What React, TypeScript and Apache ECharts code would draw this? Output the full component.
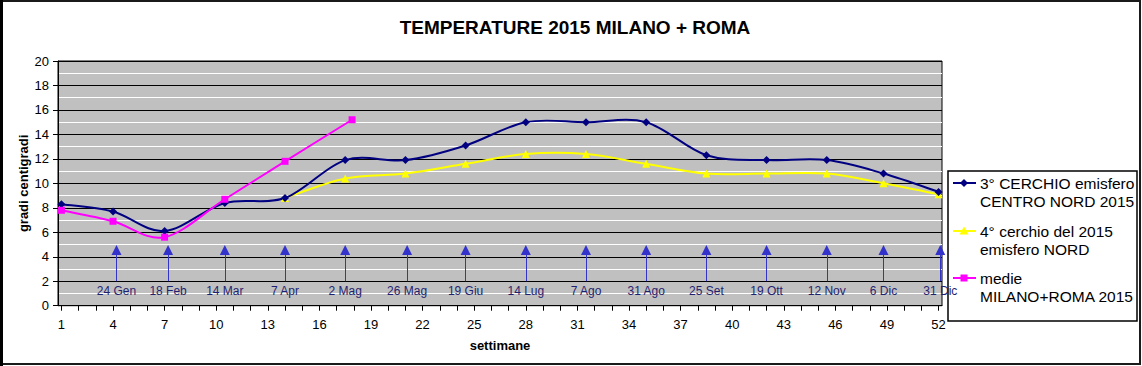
import React, { useEffect, useRef } from "react";
import * as echarts from "echarts";

const FONT = "'Liberation Sans', Arial, Helvetica, sans-serif";

// weeks at which the readings were taken
const weeks = [1, 4, 7, 10.5, 14, 17.5, 21, 24.5, 28, 31.5, 35, 38.5, 42, 45.5, 48.8, 52];
const cerchio3 = [8.3, 7.7, 6.1, 8.4, 8.8, 11.9, 11.9, 13.1, 15.0, 15.0, 15.0, 12.3, 11.9, 11.9, 10.8, 9.3];
const cerchio4 = [null, null, null, null, 8.8, 10.4, 10.8, 11.6, 12.4, 12.4, 11.6, 10.8, 10.8, 10.8, 10.0, 9.1];
const medieWeeks = [1, 4, 7, 10.5, 14, 17.9];
const medie = [7.8, 6.9, 5.6, 8.7, 11.8, 15.2];

const arrowWeeks = [4.2, 7.2, 10.5, 14, 17.5, 21.1, 24.5, 28, 31.5, 35, 38.5, 42, 45.5, 48.8, 52.1];
const arrowLabels = [
  "24 Gen", "18 Feb", "14 Mar", "7 Apr", "2 Mag", "26 Mag", "19 Giu", "14 Lug",
  "7 Ago", "31 Ago", "25 Set", "19 Ott", "12 Nov", "6 Dic", "31 Dic",
];

const xTickLabels = [1, 4, 7, 10, 13, 16, 19, 22, 25, 28, 31, 34, 37, 40, 43, 46, 49, 52];
const xTicks = Array.from({ length: 52 }, (_, i) => i + 1);

const seriesNames = [
  "3° CERCHIO emisfero\nCENTRO NORD 2015",
  "4° cerchio del 2015\nemisfero NORD",
  "medie\nMILANO+ROMA 2015",
];
const seriesColors = ["#000080", "#FFFF00", "#FF00FF"];

const title = "TEMPERATURE 2015 MILANO + ROMA";

function zip(xs: number[], ys: (number | null)[]) {
  const out: number[][] = [];
  xs.forEach((x, i) => {
    if (ys[i] !== null && ys[i] !== undefined) out.push([x, ys[i] as number]);
  });
  return out;
}

// Excel-like smoothed curve (Catmull-Rom as cubic Bezier) drawn through the axis scales
function smoothCurve(points: number[][], color: string, z: number) {
  return {
    type: "custom",
    data: points,
    z,
    silent: true,
    encode: { x: 0, y: 1 },
    renderItem: (params: any, api: any) => {
      const i = params.dataIndex;
      const n = points.length;
      if (i >= n - 1) return null;
      const P = (k: number) => api.coord(points[Math.max(0, Math.min(n - 1, k))]);
      const p0 = P(i - 1), p1 = P(i), p2 = P(i + 1), p3 = P(i + 2);
      const t = 1 / 6;
      return {
        type: "bezierCurve",
        shape: {
          x1: p1[0], y1: p1[1], x2: p2[0], y2: p2[1],
          cpx1: p1[0] + (p2[0] - p0[0]) * t,
          cpy1: p1[1] + (p2[1] - p0[1]) * t,
          cpx2: p2[0] - (p3[0] - p1[0]) * t,
          cpy2: p2[1] - (p3[1] - p1[1]) * t,
        },
        style: { stroke: color, lineWidth: 2, fill: "none" },
      };
    },
  };
}

export default function App() {
  const ref = useRef<HTMLDivElement>(null);
  useEffect(() => {
    if (!ref.current) return;
    const chart = echarts.init(ref.current, null, { renderer: "svg" });
    const arrowColor = "#3333CC";
    const legendX = 948;
    const legendRows = [183, 231, 278];
    const d3 = zip(weeks, cerchio3);
    const d4 = zip(weeks, cerchio4);
    const dm = zip(medieWeeks, medie);
    const markerSeries = (name: string, data: number[][], color: string, symbol: string, size: number, z: number) => ({
      name,
      type: "line",
      data,
      symbol,
      symbolSize: size,
      itemStyle: { color },
      lineStyle: { opacity: 0 },
      z,
    });
    const option: any = {
      animation: false,
      backgroundColor: "#ffffff",
      textStyle: { fontFamily: FONT },
      title: {
        text: title,
        left: 575,
        textAlign: "center",
        top: 18,
        padding: 0,
        textStyle: { fontFamily: FONT, fontSize: 19, fontWeight: "bold", color: "#000" },
      },
      grid: {
        left: 58,
        top: 61,
        width: 884,
        height: 244.7,
        show: true,
        backgroundColor: "#C0C0C0",
        borderColor: "#000",
        borderWidth: 1,
      },
      xAxis: {
        type: "value",
        min: 0.8,
        max: 52.2,
        name: "settimane",
        nameLocation: "middle",
        nameGap: 33,
        nameMoveOverlap: false,
        nameTextStyle: { fontFamily: FONT, fontWeight: "bold", fontSize: 13, color: "#000" },
        axisLine: { show: true, onZero: false, lineStyle: { color: "#000", width: 1 } },
        axisTick: { show: true, customValues: xTicks, length: 5, lineStyle: { color: "#000" } },
        axisLabel: { customValues: xTickLabels, fontFamily: FONT, fontSize: 13, color: "#000", margin: 12 },
        splitLine: { show: false },
      },
      yAxis: {
        type: "value",
        min: 0,
        max: 20,
        interval: 2,
        name: "gradi centigradi",
        nameLocation: "middle",
        nameGap: 28,
        nameMoveOverlap: false,
        nameTextStyle: { fontFamily: FONT, fontWeight: "bold", fontSize: 13, color: "#000" },
        axisLine: { show: true, lineStyle: { color: "#000", width: 1 } },
        axisTick: { show: true, length: 5, lineStyle: { color: "#000" } },
        axisLabel: { fontFamily: FONT, fontSize: 13, color: "#000", margin: 9 },
        splitLine: { show: true, lineStyle: { color: "#000", width: 1 } },
        minorTick: { show: false, splitNumber: 2 },
        minorSplitLine: { show: true, lineStyle: { color: "#ffffff", width: 1 } },
      },
      series: [
        smoothCurve(d4, seriesColors[1], 2),
        smoothCurve(d3, seriesColors[0], 3),
        smoothCurve(dm, seriesColors[2], 4),
        markerSeries(seriesNames[1], d4, seriesColors[1], "triangle", 8, 5),
        markerSeries(seriesNames[0], d3, seriesColors[0], "diamond", 8, 6),
        markerSeries(seriesNames[2], dm, seriesColors[2], "rect", 7, 7),
        {
          name: "date",
          type: "line",
          data: [],
          markLine: {
            silent: true,
            animation: false,
            symbol: ["none", "triangle"],
            symbolSize: 10,
            lineStyle: { color: arrowColor, width: 1, type: "solid" },
            itemStyle: { color: arrowColor },
            label: {
              show: true,
              position: "start",
              distance: 4,
              fontFamily: FONT,
              fontSize: 12,
              color: "#1F1F70",
              formatter: (p: any) => p.name,
            },
            data: arrowWeeks.map((w, i) => [
              { coord: [w, 2], name: arrowLabels[i] },
              { coord: [w, 4.55] },
            ]),
          },
        },
      ],
      graphic: [
        {
          type: "rect",
          shape: { x: 1, y: 1, width: 1139, height: 363 },
          style: { fill: "none", stroke: "#1a1a1a", lineWidth: 2 },
          silent: true,
        },
        {
          type: "line",
          shape: { x1: 1.5, y1: 0, x2: 1.5, y2: 366 },
          style: { stroke: "#000", lineWidth: 3 },
          silent: true,
        },
        {
          type: "rect",
          shape: { x: legendX, y: 171, width: 189, height: 150 },
          style: { fill: "#fff", stroke: "#000", lineWidth: 1.5 },
          silent: true,
        },
        ...legendRows.map((y, i) => ({
          type: "line",
          shape: { x1: legendX + 5, y1: y, x2: legendX + 28, y2: y },
          style: { stroke: seriesColors[i], lineWidth: 2 },
          silent: true,
        })),
        {
          type: "polygon",
          shape: { points: [[legendX + 16, legendRows[0] - 4], [legendX + 20, legendRows[0]], [legendX + 16, legendRows[0] + 4], [legendX + 12, legendRows[0]]] },
          style: { fill: seriesColors[0] },
          silent: true,
        },
        {
          type: "polygon",
          shape: { points: [[legendX + 16, legendRows[1] - 4.5], [legendX + 20.5, legendRows[1] + 3.5], [legendX + 11.5, legendRows[1] + 3.5]] },
          style: { fill: seriesColors[1] },
          silent: true,
        },
        {
          type: "rect",
          shape: { x: legendX + 12.5, y: legendRows[2] - 3.5, width: 7, height: 7 },
          style: { fill: seriesColors[2] },
          silent: true,
        },
        ...legendRows.map((y, i) => ({
          type: "text",
          x: legendX + 32,
          y: y - 9,
          style: {
            text: seriesNames[i],
            fontFamily: FONT,
            fontSize: 15.5,
            lineHeight: 18,
            fill: "#000",
            textVerticalAlign: "top",
          },
          silent: true,
        })),
      ],
    };
    chart.setOption(option);
    return () => chart.dispose();
  }, []);
  return (
    <div
      ref={ref}
      style={{ position: "absolute", left: 0, top: 0, width: 1142, height: 366 }}
    />
  );
}
